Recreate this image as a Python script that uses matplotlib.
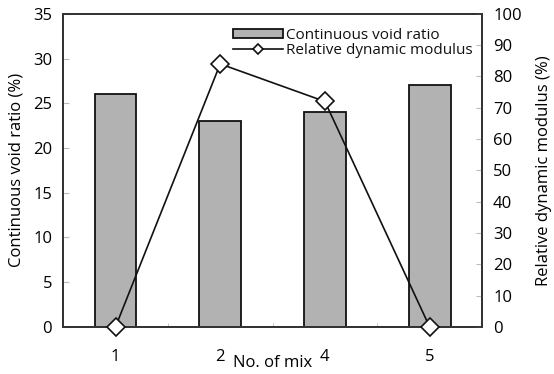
import numpy as np
import matplotlib.pyplot as plt

plt.rcParams['font.family'] = ['Open Sans', 'DejaVu Sans']

mixes = ['1', '2', '4', '5']
void_ratio = [26, 23, 24, 27]          # %
dyn_modulus = [0, 84, 72, 0]            # %

x = np.arange(len(mixes)) + 0.5

fig, ax = plt.subplots(figsize=(5.54, 3.74), dpi=100)
fig.subplots_adjust(left=0.114, right=0.870, top=0.963, bottom=0.126)

bars = ax.bar(x, void_ratio, width=0.4, color='#b2b2b2', edgecolor='#111111',
              linewidth=1.3, label='Continuous void ratio', zorder=2)
ax.set_xlim(0, 4)
ax.set_ylim(0, 35)
ax.set_yticks(np.arange(0, 36, 5))
ax.set_xticks(x)
ax.set_xticklabels(mixes)
ax.set_xticks(np.arange(1, 4), minor=True)
ax.tick_params(axis='x', which='major', length=0, pad=16, labelsize=12)
ax.tick_params(axis='x', which='minor', direction='in', length=3, color='#bbbbbb')
ax.tick_params(axis='y', direction='in', length=4, color='#bbbbbb', labelsize=12, pad=8)
ax.set_ylabel('Continuous void ratio (%)', fontsize=12, labelpad=6)
ax.set_xlabel('No. of mix', fontsize=12, labelpad=-7)
for s in ax.spines.values():
    s.set_color('#333333')
    s.set_linewidth(1.3)

ax2 = ax.twinx()
line, = ax2.plot(x, dyn_modulus, color='#111111', linewidth=1.2, marker='D',
                 markersize=9, markerfacecolor='white', markeredgecolor='#111111',
                 markeredgewidth=1.2, label='Relative dynamic modulus', clip_on=False, zorder=3)
ax2.set_ylim(0, 100)
ax2.set_yticks(np.arange(0, 101, 10))
ax2.tick_params(axis='y', direction='in', length=4, color='#bbbbbb', labelsize=12, pad=8)
ax2.set_ylabel('Relative dynamic modulus (%)', fontsize=12, labelpad=10)
for s in ax2.spines.values():
    s.set_color('#333333')
    s.set_linewidth(1.3)

leg = ax2.legend([bars, line], ['Continuous void ratio', 'Relative dynamic modulus'],
                 loc='upper right', bbox_to_anchor=(1.0, 0.985), frameon=False,
                 fontsize=11, handlelength=3.3, handleheight=0.55, markerscale=0.6,
                 labelspacing=0.0, handletextpad=0.2, borderaxespad=0.2)
for t in leg.get_texts():
    t.set_color('#111111')

fig.savefig('out.png', dpi=100)
